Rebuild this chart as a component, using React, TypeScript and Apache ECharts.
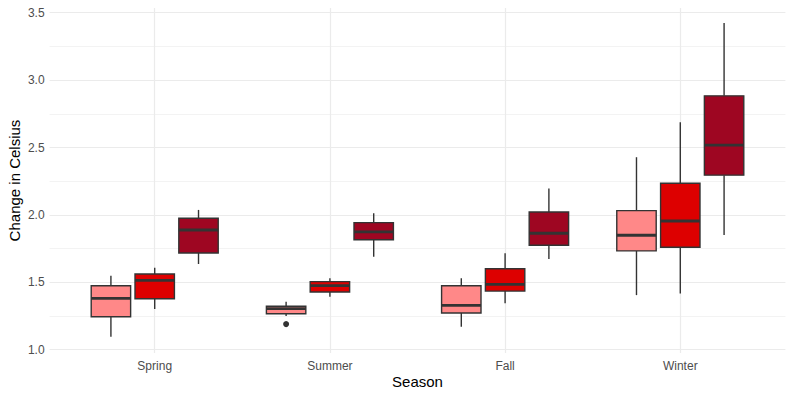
import React, { useEffect, useRef } from "react";
import * as echarts from "echarts";

const seasons = ["Spring", "Summer", "Fall", "Winter"];
const groupNames = ["Group A", "Group B", "Group C"];
const groupColors = ["#FF8888", "#DD0000", "#9E0622"];

// [lower whisker, Q1, median, Q3, upper whisker] per season
const groupA = [
  [1.096, 1.245, 1.381, 1.475, 1.549],
  [1.25, 1.267, 1.305, 1.323, 1.356],
  [1.171, 1.272, 1.329, 1.475, 1.53],
  [1.405, 1.733, 1.849, 2.032, 2.428],
];
const groupB = [
  [1.302, 1.378, 1.515, 1.562, 1.609],
  [1.393, 1.428, 1.475, 1.505, 1.53],
  [1.344, 1.435, 1.485, 1.601, 1.715],
  [1.418, 1.76, 1.955, 2.235, 2.688],
];
const groupC = [
  [1.636, 1.718, 1.888, 1.975, 2.037],
  [1.69, 1.816, 1.874, 1.943, 2.012],
  [1.673, 1.775, 1.864, 2.022, 2.195],
  [1.851, 2.295, 2.517, 2.883, 3.423],
];
const groups = [groupA, groupB, groupC];

// outliers: [season index, group index, value]
const outliers = [[1, 0, 1.19]];

const yTicks = [1.0, 1.5, 2.0, 2.5, 3.0, 3.5];
const yMinorTicks = [1.25, 1.75, 2.25, 2.75, 3.25];
const xTicks = [0, 1, 2, 3];

const dodgeOffsets = [-0.25, 0, 0.25];
const boxWidth = 0.225;
const FONT = "'Liberation Sans', Arial, sans-serif";

export default function App() {
  const ref = useRef<HTMLDivElement>(null);
  useEffect(() => {
    if (!ref.current) return;
    const chart = echarts.init(ref.current, undefined, { renderer: "svg" });

    const boxSeries = groups.map((g, gi) => ({
      type: "custom",
      name: groupNames[gi],
      z: 3,
      data: g.map((st, si) => [si, ...st]),
      encode: { x: 0, y: [1, 2, 3, 4, 5] },
      renderItem: (params: any, api: any) => {
        const cat = api.value(0) + dodgeOffsets[gi];
        const cx = api.coord([cat, api.value(3)])[0];
        const ys = [1, 2, 3, 4, 5].map((i) => api.coord([cat, api.value(i)])[1]);
        const [yLow, yQ1, yMed, yQ3, yHigh] = ys;
        const hw = api.size([boxWidth, 0])[0] / 2;
        const stroke = "#333333";
        return {
          type: "group",
          children: [
            { type: "line", shape: { x1: cx, y1: yHigh, x2: cx, y2: yQ3 }, style: { stroke, lineWidth: 1.4 } },
            { type: "line", shape: { x1: cx, y1: yQ1, x2: cx, y2: yLow }, style: { stroke, lineWidth: 1.4 } },
            {
              type: "rect",
              shape: { x: cx - hw, y: yQ3, width: 2 * hw, height: yQ1 - yQ3 },
              style: { fill: groupColors[gi], stroke, lineWidth: 1.4 },
            },
            { type: "line", shape: { x1: cx - hw, y1: yMed, x2: cx + hw, y2: yMed }, style: { stroke, lineWidth: 2.8 } },
          ],
        };
      },
    }));

    const option: any = {
      animation: false,
      grid: { left: 49.6, right: 7.6, top: 8.1, bottom: 43.9, containLabel: false },
      xAxis: {
        type: "value",
        min: -0.6,
        max: 3.6,
        axisLine: { show: false },
        axisTick: { show: false },
        splitLine: { show: false },
        axisLabel: {
          customValues: xTicks,
          formatter: (v: number) => seasons[Math.round(v)] ?? "",
          color: "#4D4D4D",
          fontSize: 12,
          fontFamily: FONT,
          margin: 7,
        },
      },
      yAxis: {
        type: "value",
        min: 0.975,
        max: 3.534,
        axisLine: { show: false },
        axisTick: { show: false },
        splitLine: { show: false },
        axisLabel: {
          customValues: yTicks,
          formatter: (v: number) => v.toFixed(1),
          color: "#4D4D4D",
          fontSize: 12,
          fontFamily: FONT,
          margin: 5,
        },
      },
      graphic: [
        {
          type: "text",
          x: 417.5,
          y: 381,
          style: { text: "Season", fontSize: 15, fontFamily: FONT, fill: "#000", align: "center", verticalAlign: "middle" },
        },
        {
          type: "text",
          x: 14,
          y: 180.5,
          rotation: Math.PI / 2,
          style: { text: "Change in Celsius", fontSize: 15, fontFamily: FONT, fill: "#000", align: "center", verticalAlign: "middle" },
        },
      ],
      series: [
        {
          type: "line",
          data: [],
          z: 0,
          silent: true,
          markLine: {
            silent: true,
            z: 0,
            symbol: ["none", "none"],
            label: { show: false },
            animation: false,
            data: [
              ...yMinorTicks.map((v) => ({ yAxis: v, lineStyle: { color: "#EBEBEB", width: 0.6, type: "solid" } })),
              ...yTicks.map((v) => ({ yAxis: v, lineStyle: { color: "#EBEBEB", width: 1.2, type: "solid" } })),
              ...xTicks.map((v) => ({ xAxis: v, lineStyle: { color: "#EBEBEB", width: 1.2, type: "solid" } })),
            ],
          },
        },
        ...boxSeries,
        {
          type: "scatter",
          z: 4,
          symbolSize: 6,
          itemStyle: { color: "#333333", opacity: 1 },
          data: outliers.map(([si, gi, v]) => [si + dodgeOffsets[gi], v]),
        },
      ],
    };
    chart.setOption(option);
    return () => chart.dispose();
  }, []);
  return <div ref={ref} style={{ position: "fixed", left: 0, top: 0, width: 793, height: 397, background: "#fff" }} />;
}
